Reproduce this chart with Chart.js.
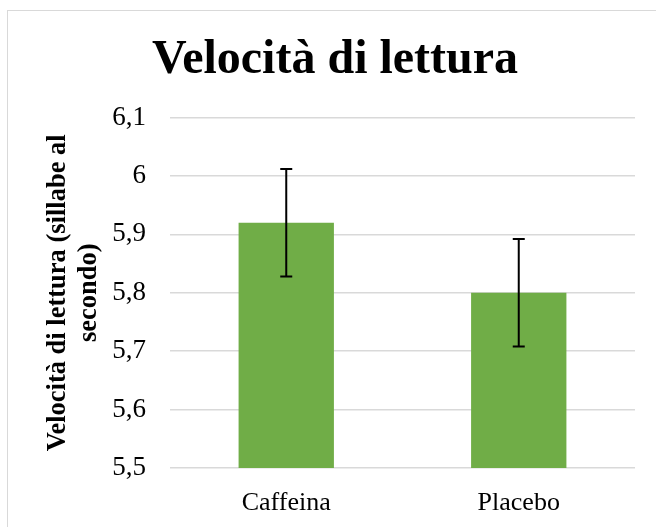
<!DOCTYPE html>
<html>
<head>
<meta charset="utf-8">
<script src="https://cdn.jsdelivr.net/npm/chart.js@4/dist/chart.umd.min.js"></script>
<style>
  html, body { margin: 0; padding: 0; background: #ffffff; overflow: hidden; }
  #wrap { position: relative; width: 656px; height: 527px; }
  #frame { position: absolute; left: 7px; top: 10px; width: 700px; height: 600px; border: 1px solid #d9d9d9; box-sizing: border-box; }
  #c { position: absolute; left: 0; top: 0; }
</style>
</head>
<body>
<div id="wrap">
  <div id="frame"></div>
  <canvas id="c" width="656" height="527"></canvas>
</div>
<script>
const chartTitle = 'Velocità di lettura';
const yAxisTitle = ['Velocità di lettura (sillabe al', 'secondo)'];
const categories = ['Caffeina', 'Placebo'];
const means = [5.92, 5.80];
const errors = [0.092, 0.092];
const yTickLabels = ['5,5', '5,6', '5,7', '5,8', '5,9', '6', '6,1'];

const SERIF = '"Liberation Serif", "Times New Roman", serif';

const errorBarPlugin = {
  id: 'errorBars',
  afterDatasetsDraw(chart) {
    const ctx = chart.ctx;
    const yScale = chart.scales.y;
    const meta = chart.getDatasetMeta(0);
    ctx.save();
    ctx.strokeStyle = '#000000';
    ctx.lineWidth = 2;
    meta.data.forEach((bar, i) => {
      const x = bar.x;
      const yTop = yScale.getPixelForValue(means[i] + errors[i]);
      const yBot = yScale.getPixelForValue(means[i] - errors[i]);
      const cap = 6;
      ctx.beginPath();
      ctx.moveTo(x, yTop); ctx.lineTo(x, yBot);
      ctx.moveTo(x - cap, yTop); ctx.lineTo(x + cap, yTop);
      ctx.moveTo(x - cap, yBot); ctx.lineTo(x + cap, yBot);
      ctx.stroke();
    });
    ctx.restore();
  }
};

new Chart(document.getElementById('c'), {
  type: 'bar',
  data: {
    labels: categories,
    datasets: [{
      data: means,
      backgroundColor: '#70ad47',
      borderWidth: 0,
      categoryPercentage: 1.0,
      barPercentage: 0.41
    }]
  },
  options: {
    responsive: false,
    animation: false,
    devicePixelRatio: 1,
    layout: { padding: { left: 35, right: 21, top: 0, bottom: 0 } },
    plugins: {
      legend: { display: false },
      tooltip: { enabled: false },
      title: {
        display: true,
        text: chartTitle,
        color: '#000000',
        font: { family: SERIF, size: 48, weight: 'bold', lineHeight: 1.2 },
        padding: { top: 32, bottom: 28 }
      }
    },
    scales: {
      x: {
        grid: { display: false, drawTicks: false },
        border: { display: false },
        ticks: {
          color: '#000000',
          font: { family: SERIF, size: 26 },
          padding: 20
        },
        afterFit(scale) { scale.height = 59; }
      },
      y: {
        min: 5.5,
        max: 6.1,
        grid: { color: '#d9d9d9', lineWidth: 1.5, drawTicks: false },
        border: { display: false },
        ticks: {
          stepSize: 0.1,
          color: '#000000',
          font: { family: SERIF, size: 27 },
          padding: 24,
          callback: (v, i) => yTickLabels[i]
        },
        title: {
          display: true,
          text: yAxisTitle,
          color: '#000000',
          font: { family: SERIF, size: 26.5, weight: 'bold', lineHeight: 1.15 },
          padding: { top: 8, bottom: 0 }
        },
        afterFit(scale) { scale.width = 135; }
      }
    }
  },
  plugins: [errorBarPlugin]
});
</script>
</body>
</html>
